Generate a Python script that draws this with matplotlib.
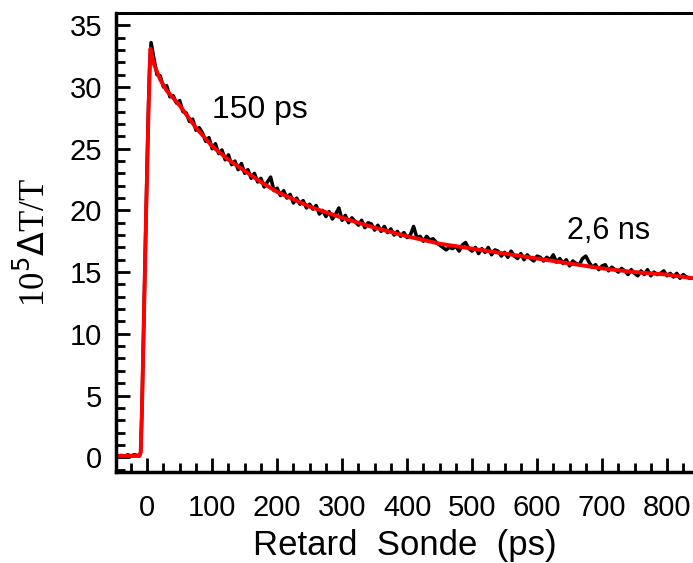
import numpy as np
import matplotlib
matplotlib.use("Agg")
import matplotlib.pyplot as plt
from matplotlib.ticker import MultipleLocator

plt.rcParams["font.family"] = ["Liberation Sans", "DejaVu Sans"]

# measured pump-probe trace (ps, 10^5 dT/T)
t_rise = [-45, -40, -35, -30, -25, -20, -15, -12, -10, -8, -6, -4, -2, 0, 2, 4, 6, 8]
y_rise = [0.1, 0.15, 0.05, 0.2, 0.1, 0.2, 0.15, 0.1, 0.4, 4, 9, 14, 19, 24, 28.5, 32, 33.6, 33.0]

t_decay = np.arange(10, 841, 5)
y_decay = [
    32.4, 31.0, 30.9, 30.0, 30.1, 29.2, 29.3, 28.7, 28.9, 28.0,
    27.9, 27.2, 27.4, 26.5, 26.7, 26.3, 25.6, 25.9, 25.0, 25.4,
    24.6, 24.9, 24.1, 24.5, 23.7, 24.0, 23.3, 23.8, 23.0, 23.3,
    22.6, 23.0, 22.3, 22.6, 21.9, 22.3, 22.7, 21.6, 21.8, 21.2,
    21.6, 21.0, 21.3, 20.6, 21.0, 20.5, 20.8, 20.2, 20.5, 20.1,
    20.4, 19.7, 20.0, 19.5, 19.9, 19.3, 19.7, 20.2, 19.2, 19.6,
    19.0, 19.4, 19.1, 18.8, 19.2, 18.6, 19.0, 18.9, 18.4, 18.8,
    18.3, 18.7, 18.2, 18.5, 18.0, 18.3, 17.9, 18.2, 17.8, 18.0,
    18.7, 17.8, 17.9, 17.5, 17.9, 17.6, 17.7, 17.4, 17.2, 17.0,
    16.8, 17.0, 16.9, 17.1, 16.7, 17.2, 17.4, 16.9, 16.7, 17.0,
    16.5, 16.9, 16.6, 17.0, 16.4, 16.8, 16.7, 16.3, 16.6, 16.2,
    16.7, 16.3, 16.1, 16.5, 16.0, 16.4, 16.1, 15.9, 16.3, 16.2,
    15.9, 16.2, 16.0, 16.4, 15.8, 16.1, 15.7, 16.0, 15.5, 15.9,
    15.7, 15.6, 16.1, 16.3, 15.8, 15.4, 15.6, 15.2, 15.5, 15.6,
    15.1, 15.4, 15.2, 15.0, 15.3, 15.1, 14.8, 15.2, 14.9, 14.7,
    15.1, 14.8, 15.2, 14.7, 15.0, 14.8, 14.9, 15.1, 14.7, 14.9,
    14.6, 14.9, 14.5, 14.8, 14.6, 14.5, 14.5,
]

# bi-exponential fit
t_fit = [-45, -12, -10, -8, -6, -4, -2, 0, 2, 4, 5, 10, 20, 30, 50, 75, 100,
         125, 150, 175, 200, 250, 300, 350, 400, 450, 500, 550, 600, 650,
         700, 750, 800, 840]
y_fit = [0.1, 0.1, 0.4, 4, 9, 14, 19, 23.5, 28, 31.8, 33.1, 31.9, 30.6, 29.7,
         28.5, 26.7, 25.2, 24.1, 23.2, 22.3, 21.5, 20.3, 19.4, 18.6, 17.9,
         17.3, 16.9, 16.5, 16.1, 15.7, 15.3, 15.0, 14.8, 14.5]

t_data = np.concatenate([t_rise, t_decay])
y_data = np.concatenate([y_rise, y_decay])

fig = plt.figure(figsize=(6.93, 5.63), dpi=100)
ax = fig.add_axes([0.1674, 0.1616, 0.8326, 0.8154])

ax.plot(t_data, y_data, color="black", lw=2.5)
ax.plot(t_fit, y_fit, color="red", lw=2.8)

ax.set_xlim(-48, 840)
ax.set_ylim(-1.2, 36)

ax.xaxis.set_major_locator(MultipleLocator(100))
ax.xaxis.set_minor_locator(MultipleLocator(25))
ax.yaxis.set_major_locator(MultipleLocator(5))
ax.yaxis.set_minor_locator(MultipleLocator(1))

ax.tick_params(which="both", direction="in", width=2, top=False, right=False,
               labelsize=21)
ax.tick_params(which="major", length=10)
ax.tick_params(which="minor", length=6.5)
ax.tick_params(axis="y", pad=10)
ax.tick_params(axis="x", pad=16)

# the top axis carries only very short ticks
top = ax.secondary_xaxis("top")
top.xaxis.set_major_locator(MultipleLocator(25))
top.tick_params(direction="in", length=1.5, width=1.5, labeltop=False)
top.spines["top"].set_linewidth(2)

for s in ["left", "bottom"]:
    ax.spines[s].set_linewidth(2.5)
ax.spines["top"].set_linewidth(2)
ax.spines["right"].set_visible(False)

ax.set_xlabel("Retard  Sonde  (ps)", fontsize=25, labelpad=5)
ax.set_ylabel(r"10$^5$$\Delta$T/T", fontsize=25, family="Liberation Serif", labelpad=12)

ax.text(100, 27.5, "150 ps", fontsize=23)
ax.text(646, 17.7, "2,6 ns", fontsize=22)

fig.savefig("out.png", dpi=100)
